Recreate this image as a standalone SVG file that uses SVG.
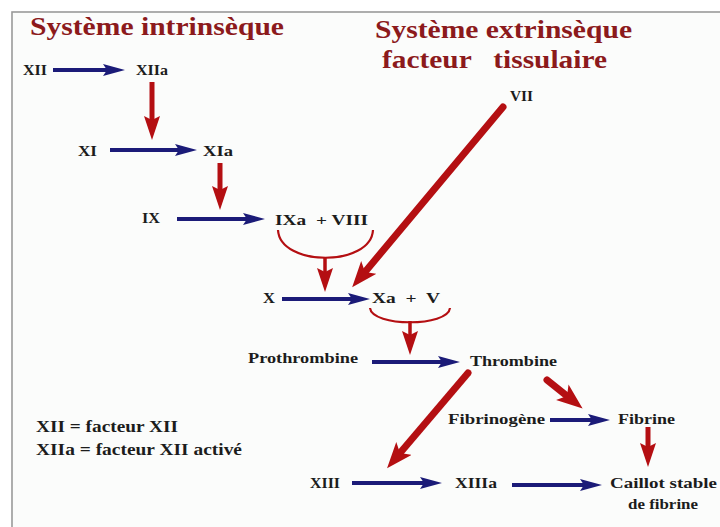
<svg xmlns="http://www.w3.org/2000/svg" width="720" height="527" viewBox="0 0 720 527">
<defs>
<style>
.t{font-family:"Liberation Serif","Times New Roman",serif;font-weight:bold;fill:#1c1c1c;font-size:14px}
.m{font-size:15px}
.lg{font-size:16px}
.h{font-family:"Liberation Serif","Times New Roman",serif;font-weight:bold;fill:#8c1a1c;font-size:26px}
.nv{stroke:#1b1b78;stroke-width:4;fill:none;marker-end:url(#nh)}
.rv{stroke:#b40f12;stroke-width:5;fill:none;marker-end:url(#rh)}
.rs{stroke:#b40f12;stroke-width:3.5;fill:none;marker-end:url(#rh)}
.rd{stroke:#b40f12;stroke-width:7;fill:none;stroke-linecap:round;marker-end:url(#rb)}
.arc{stroke:#b40f12;stroke-width:2.2;fill:none}
</style>
<marker id="nh" markerUnits="userSpaceOnUse" markerWidth="26" markerHeight="16" refX="4" refY="7" orient="auto">
<path d="M0,1 L22,7 L0,13 L4,7 z" fill="#1b1b78"/>
</marker>
<marker id="rh" markerUnits="userSpaceOnUse" markerWidth="28" markerHeight="20" refX="4" refY="8" orient="auto">
<path d="M0,0 L24,8 L0,16 L4,8 z" fill="#b40f12"/>
</marker>
<marker id="rb" markerUnits="userSpaceOnUse" markerWidth="30" markerHeight="24" refX="6" refY="10" orient="auto">
<path d="M0,0 L26,10 L0,20 L6,10 z" fill="#b40f12"/>
</marker>
</defs>
<rect x="0" y="0" width="720" height="527" fill="#ffffff"/>
<rect x="12" y="12" width="720" height="530" fill="#fbfcfb" stroke="#9a9a9a" stroke-width="1.6"/>

<g id="titles">
<text class="h" x="30" y="35" textLength="254" lengthAdjust="spacingAndGlyphs">Système intrinsèque</text>
<text class="h" x="375" y="38" textLength="257" lengthAdjust="spacingAndGlyphs">Système extrinsèque</text>
<text class="h" x="382" y="68" textLength="225" lengthAdjust="spacingAndGlyphs" xml:space="preserve">facteur   tissulaire</text>
</g>

<g id="connectors">
<line class="nv" x1="53" y1="70" x2="107" y2="70"/>
<line class="rv" x1="152" y1="82" x2="152" y2="120"/>
<line class="nv" x1="110" y1="150" x2="179" y2="150"/>
<line class="rv" x1="220" y1="163" x2="220" y2="190"/>
<line class="nv" x1="177" y1="219" x2="247" y2="219"/>
<path class="arc" d="M278,230 C280,267 371,267 373,230"/>
<line class="rs" x1="325" y1="257" x2="325" y2="272"/>
<line class="nv" x1="282" y1="299" x2="352" y2="299"/>
<path class="arc" d="M370,308 C372,327 448,327 450,308"/>
<line class="rs" x1="410" y1="321" x2="410" y2="335"/>
<line class="nv" x1="372" y1="362" x2="442" y2="362"/>
<line class="rd" x1="503" y1="107" x2="365" y2="272"/>
<line class="rd" x1="468" y1="373" x2="400" y2="453"/>
<line class="rd" x1="547" y1="380" x2="567" y2="396"/>
<line class="nv" x1="550" y1="420" x2="592" y2="420"/>
<line class="rv" x1="648" y1="427" x2="648" y2="447"/>
<line class="nv" x1="352" y1="483" x2="424" y2="483"/>
<line class="nv" x1="512" y1="485" x2="584" y2="485"/>
</g>

<g id="n-xii"><text class="t" x="23" y="75" textLength="24" lengthAdjust="spacingAndGlyphs">XII</text></g>
<g id="n-xiia"><text class="t" x="136" y="75" textLength="32" lengthAdjust="spacingAndGlyphs">XIIa</text></g>
<g id="n-xi"><text class="t" x="78" y="156" textLength="19" lengthAdjust="spacingAndGlyphs">XI</text></g>
<g id="n-xia"><text class="t" x="203" y="156" textLength="30" lengthAdjust="spacingAndGlyphs">XIa</text></g>
<g id="n-ix"><text class="t" x="142" y="223" textLength="18" lengthAdjust="spacingAndGlyphs">IX</text></g>
<g id="n-ixa-viii"><text class="t" x="275" y="225" textLength="93" lengthAdjust="spacingAndGlyphs" xml:space="preserve">IXa  + VIII</text></g>
<g id="n-vii"><text class="t" x="510" y="101" textLength="23" lengthAdjust="spacingAndGlyphs">VII</text></g>
<g id="n-x"><text class="t" x="263" y="303" textLength="12" lengthAdjust="spacingAndGlyphs">X</text></g>
<g id="n-xa-v"><text class="t" x="372" y="303" textLength="68" lengthAdjust="spacingAndGlyphs" xml:space="preserve">Xa  +  V</text></g>
<g id="n-prothrombine"><text class="t m" x="248" y="363" textLength="110" lengthAdjust="spacingAndGlyphs">Prothrombine</text></g>
<g id="n-thrombine"><text class="t m" x="470" y="366" textLength="87" lengthAdjust="spacingAndGlyphs">Thrombine</text></g>
<g id="n-fibrinogene"><text class="t m" x="448" y="424" textLength="97" lengthAdjust="spacingAndGlyphs">Fibrinogène</text></g>
<g id="n-fibrine"><text class="t m" x="618" y="424" textLength="57" lengthAdjust="spacingAndGlyphs">Fibrine</text></g>
<g id="n-xiii"><text class="t" x="310" y="488" textLength="30" lengthAdjust="spacingAndGlyphs">XIII</text></g>
<g id="n-xiiia"><text class="t" x="455" y="488" textLength="42" lengthAdjust="spacingAndGlyphs">XIIIa</text></g>
<g id="n-caillot">
<text class="t m" x="610" y="488" textLength="107" lengthAdjust="spacingAndGlyphs">Caillot stable</text>
<text class="t m" x="628" y="509" textLength="70" lengthAdjust="spacingAndGlyphs">de fibrine</text>
</g>
<g id="legend">
<text class="t lg" x="36" y="432" textLength="142" lengthAdjust="spacingAndGlyphs">XII = facteur XII</text>
<text class="t lg" x="36" y="455" textLength="206" lengthAdjust="spacingAndGlyphs">XIIa = facteur XII activé</text>
</g>
</svg>
